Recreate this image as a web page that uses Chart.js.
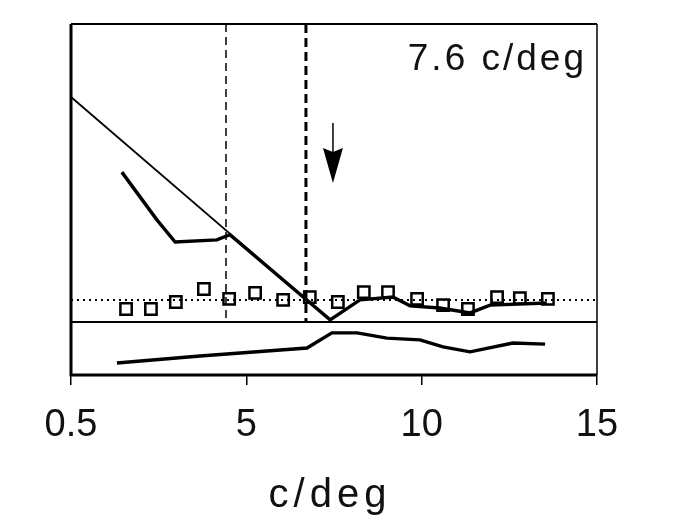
<!DOCTYPE html>
<html>
<head>
<meta charset="utf-8">
<script src="https://cdn.jsdelivr.net/npm/chart.js@4.4.1/dist/chart.umd.min.js"></script>
<style>
  html, body { margin: 0; padding: 0; background: #fff; }
  #wrap { width: 674px; height: 525px; }
</style>
</head>
<body>
<div id="wrap"><canvas id="fig"></canvas></div>
<script>
// x tick values and their printed labels
const xTicks = [0, 5, 10, 15];
const xTickLabels = ['0.5', '5', '10', '15'];

// straight (thin) line
const diagX = [0, 7.39];
const diagY = [79.2, 15.7];

// thick response curve
const curveX = [1.45, 2.45, 2.97, 4.16, 4.53, 7.39, 8.24, 9.18, 9.67, 10.52, 11.38, 11.95, 13.57];
const curveY = [57.8, 44.2, 37.9, 38.5, 40.0, 15.7, 21.4, 22.2, 19.7, 19.1, 17.7, 19.9, 20.5];

// lower panel curve
const lowerX = [1.31, 3.68, 6.73, 7.44, 8.16, 9.01, 9.95, 10.61, 11.38, 12.60, 13.52];
const lowerY = [3.4, 5.4, 7.7, 12.0, 12.0, 10.5, 10.0, 8.0, 6.6, 9.1, 8.8];

// open squares
const squareX = [1.57, 2.28, 2.99, 3.79, 4.51, 5.25, 6.05, 6.81, 7.61, 8.35, 9.04, 9.87, 10.61, 11.32, 12.15, 12.80, 13.60];
const squareY = [18.8, 18.8, 20.8, 24.5, 21.7, 23.4, 21.4, 22.2, 20.8, 23.6, 23.6, 21.7, 19.9, 18.8, 22.2, 21.9, 21.7];

// reference lines
const dottedLevel = 21.4;
const panelDivide = 15.1;
const thinDashX = 4.42;
const thickDashX = 6.70;

// arrow marking the peak frequency
const arrowX = 7.47;
const arrowTop = 71.8;
const arrowHeadTop = 64.7;
const arrowTip = 54.7;
const peakLabel = '7.6 c/deg';

const FONT = "'Liberation Sans', Arial, sans-serif";

function pts(xs, ys) {
    return xs.map((x, i) => ({ x: x, y: ys[i] }));
}

const extras = {
    id: 'extras',
    afterDatasetsDraw(chart) {
        const ctx = chart.ctx;
        const a = chart.chartArea;
        const sx = chart.scales.x, sy = chart.scales.y;

        // frame
        ctx.save();
        ctx.strokeStyle = '#000';
        ctx.lineWidth = 3;
        ctx.beginPath();
        ctx.moveTo(a.left, a.top);
        ctx.lineTo(a.left, a.bottom);
        ctx.lineTo(a.right, a.bottom);
        ctx.stroke();
        ctx.lineWidth = 2;
        ctx.beginPath();
        ctx.moveTo(a.left, a.top);
        ctx.lineTo(a.right, a.top);
        ctx.stroke();
        ctx.lineWidth = 1.5;
        ctx.beginPath();
        ctx.moveTo(a.right, a.top);
        ctx.lineTo(a.right, a.bottom);
        ctx.stroke();

        // arrow
        const ax = sx.getPixelForValue(arrowX);
        const yTop = sy.getPixelForValue(arrowTop);
        const yHead = sy.getPixelForValue(arrowHeadTop);
        const yTip = sy.getPixelForValue(arrowTip);
        ctx.lineWidth = 1.5;
        ctx.beginPath();
        ctx.moveTo(ax, yTop);
        ctx.lineTo(ax, yHead + 4);
        ctx.stroke();
        ctx.fillStyle = '#000';
        ctx.beginPath();
        ctx.moveTo(ax - 10, yHead);
        ctx.lineTo(ax, yHead + 4);
        ctx.lineTo(ax + 10, yHead);
        ctx.lineTo(ax, yTip);
        ctx.closePath();
        ctx.fill();

        // texts
        ctx.fillStyle = '#111';
        ctx.letterSpacing = '3px';
        ctx.font = '37px ' + FONT;
        ctx.textAlign = 'right';
        ctx.textBaseline = 'alphabetic';
        ctx.fillText(peakLabel, a.right - 10, a.top + 46);

        ctx.letterSpacing = '5px';
        ctx.font = '40px ' + FONT;
        ctx.textAlign = 'center';
        ctx.fillText('c/deg', 330, 507);
        ctx.restore();
    }
};

const lineDs = (data, width, dash) => ({
    data: data,
    borderColor: '#000',
    borderWidth: width,
    borderDash: dash || [],
    pointRadius: 0,
    fill: false,
    tension: 0
});

new Chart(document.getElementById('fig'), {
    type: 'line',
    data: {
        datasets: [
            lineDs([{ x: 0, y: panelDivide }, { x: 15, y: panelDivide }], 2),
            lineDs([{ x: 0, y: dottedLevel }, { x: 15, y: dottedLevel }], 2, [2, 4]),
            lineDs([{ x: thinDashX, y: 100 }, { x: thinDashX, y: panelDivide }], 1.5, [8, 5]),
            lineDs([{ x: thickDashX, y: 100 }, { x: thickDashX, y: panelDivide }], 3, [9, 5]),
            lineDs(pts(diagX, diagY), 1.8),
            lineDs(pts(curveX, curveY), 3.4),
            lineDs(pts(lowerX, lowerY), 3.4),
            {
                data: pts(squareX, squareY),
                showLine: false,
                pointStyle: 'rect',
                pointRadius: 8,
                pointBorderWidth: 2.5,
                pointBorderColor: '#000',
                pointBackgroundColor: '#fff'
            }
        ]
    },
    options: {
        responsive: true,
        maintainAspectRatio: false,
        animation: false,
        events: [],
        layout: { padding: { left: 71, right: 77, top: 24, bottom: 0 } },
        plugins: { legend: { display: false }, tooltip: { enabled: false } },
        scales: {
            x: {
                type: 'linear',
                min: 0,
                max: 15,
                afterBuildTicks: (scale) => { scale.ticks = xTicks.map(v => ({ value: v })); },
                afterFit: (scale) => { scale.height = 150; },
                ticks: {
                    padding: 18,
                    maxRotation: 0,
                    color: '#111',
                    font: { family: FONT, size: 38 },
                    callback: (v) => xTickLabels[xTicks.indexOf(v)]
                },
                grid: {
                    drawOnChartArea: false,
                    drawTicks: true,
                    tickLength: 10,
                    color: '#000',
                    lineWidth: 1.5
                },
                border: { display: false }
            },
            y: {
                display: false,
                min: 0,
                max: 100
            }
        }
    },
    plugins: [extras]
});
</script>
</body>
</html>
